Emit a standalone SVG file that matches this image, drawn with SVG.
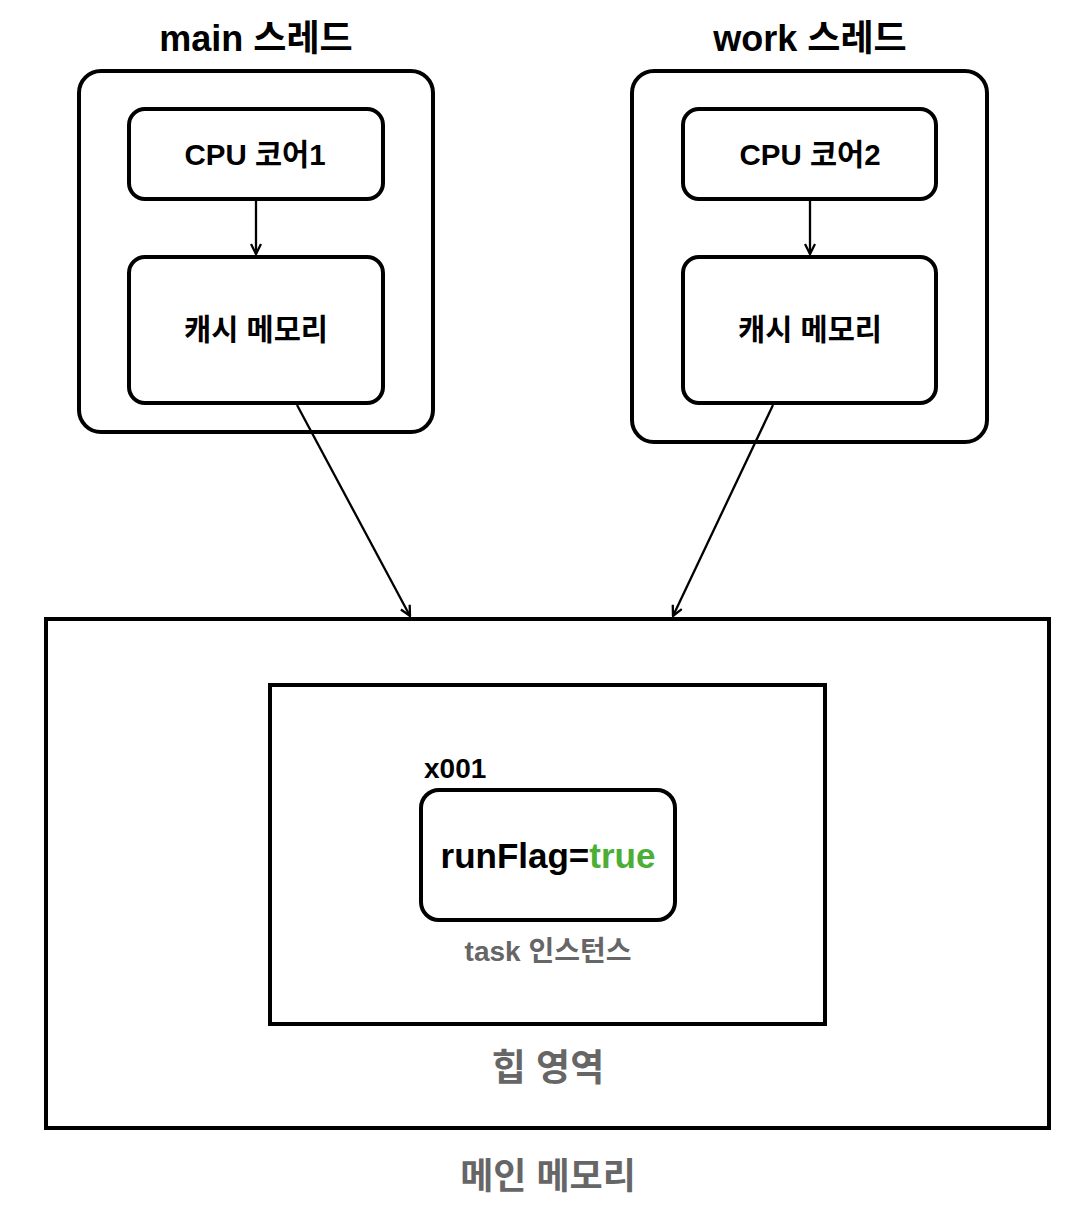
<svg xmlns="http://www.w3.org/2000/svg" width="1092" height="1214" viewBox="0 0 1092 1214">
<style>
text{font-family:"Liberation Sans","Noto Sans CJK KR",sans-serif;font-weight:bold;text-anchor:middle}
.box{fill:#fff;stroke:#000;stroke-width:4}
.conn{stroke:#000;stroke-width:2.3;fill:none}
.gray{fill:#666}
</style>
<defs>
<marker id="arr" viewBox="0 0 12 12" refX="11" refY="6" markerWidth="12" markerHeight="12" markerUnits="userSpaceOnUse" orient="auto">
<path d="M1,1 L11,6 L1,11" fill="none" stroke="#000" stroke-width="2.3"/>
</marker>
</defs>
<rect width="1092" height="1214" fill="#fff"/>
<g id="main-memory">
<rect class="box" x="46" y="619" width="1003" height="509"/>
<text class="gray" x="548" y="1189" font-size="36">메인 메모리</text>
</g>
<g id="heap">
<rect class="box" x="270" y="685" width="555" height="339" stroke-width="3"/>
<text class="gray" x="548" y="1081" font-size="37">힙 영역</text>
</g>
<g id="task">
<text x="424" y="778" font-size="28" style="text-anchor:start">x001</text>
<rect class="box" x="421" y="790" width="254" height="130" rx="18"/>
<text x="548" y="868" font-size="35">runFlag=<tspan fill="#4caf35">true</tspan></text>
<text class="gray" x="548" y="961" font-size="28">task 인스턴스</text>
</g>
<g id="main-thread">
<text x="256" y="51" font-size="36">main 스레드</text>
<rect class="box" x="79" y="71" width="354" height="361" rx="22"/>
</g>
<g id="cpu1">
<rect class="box" x="129" y="109" width="254" height="90" rx="16"/>
<text x="255" y="165" font-size="29.5">CPU 코어1</text>
</g>
<g id="cache1">
<rect class="box" x="129" y="257" width="254" height="146" rx="16"/>
<text x="256" y="340" font-size="29.5">캐시 메모리</text>
</g>
<g id="work-thread">
<text x="810" y="51" font-size="36">work 스레드</text>
<rect class="box" x="632" y="71" width="355" height="371" rx="22"/>
</g>
<g id="cpu2">
<rect class="box" x="683" y="109" width="253" height="90" rx="16"/>
<text x="810" y="165" font-size="29.5">CPU 코어2</text>
</g>
<g id="cache2">
<rect class="box" x="683" y="257" width="253" height="146" rx="16"/>
<text x="810" y="340" font-size="29.5">캐시 메모리</text>
</g>
<g id="connectors">
<line class="conn" x1="256" y1="201" x2="256" y2="254" marker-end="url(#arr)"/>
<line class="conn" x1="810" y1="201" x2="810" y2="254" marker-end="url(#arr)"/>
<line class="conn" x1="297" y1="405" x2="410" y2="616" marker-end="url(#arr)"/>
<line class="conn" x1="773" y1="405" x2="673" y2="616" marker-end="url(#arr)"/>
</g>
</svg>
